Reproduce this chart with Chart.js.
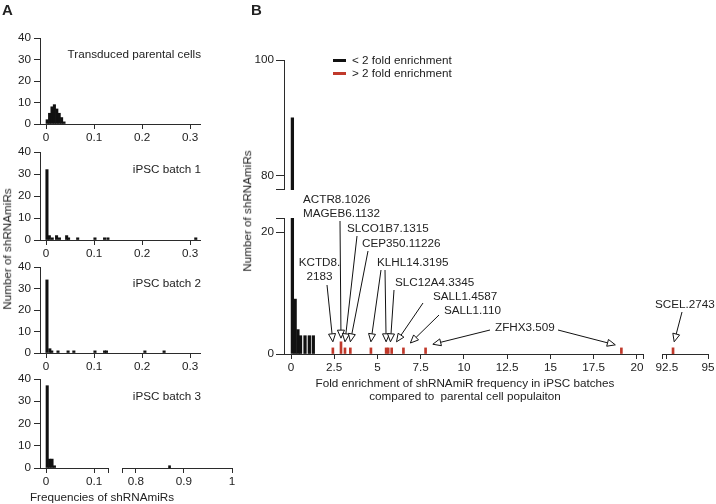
<!DOCTYPE html>
<html>
<head>
<meta charset="utf-8">
<script src="https://cdn.jsdelivr.net/npm/chart.js@4.4.1/dist/chart.umd.min.js"></script>
<style>
  body { margin: 0; width: 716px; height: 504px; position: relative; overflow: hidden; background: #fff;
         font-family: 'Liberation Sans', Arial, Helvetica, sans-serif; color: #222; }
  canvas { position: absolute; }
  .t { position: absolute; font-size: 11.7px; line-height: 1; white-space: pre; }
</style>
</head>
<body>
<script>
// ---- Panel A: frequencies of each shRNAmiR (histograms) ----
const parentalFreq  = [0.0025, 0.0075, 0.0125, 0.0175, 0.0225, 0.0275, 0.0325, 0.0375];
const parentalCount = [2, 5, 8, 9, 7, 5, 3, 1];
const batch1Freq  = [0.002, 0.007, 0.013, 0.022, 0.028, 0.043, 0.047, 0.066, 0.102, 0.122, 0.129, 0.312];
const batch1Count = [32, 2, 1, 2, 1, 2, 1, 1, 1, 1, 1, 1];
const batch2Freq  = [0.002, 0.008, 0.012, 0.025, 0.046, 0.058, 0.102, 0.122, 0.126, 0.206, 0.246];
const batch2Count = [34, 2, 1, 1, 1, 1, 1, 1, 1, 1, 1];
const batch3Freq  = [0.0025, 0.0075, 0.0125, 0.0175];
const batch3Count = [37, 4, 4, 1];
const batch3FreqFar  = [0.87];
const batch3CountFar = [1];
const freqTicks = [0, 0.1, 0.2, 0.3];
const freqTicksLow = [0, 0.1];
const freqTicksFar = [0.8, 0.9, 1];
const countTicksA = [0, 10, 20, 30, 40];

// ---- Panel B: fold enrichment in iPSC batches vs parental cells ----
const foldBelow2  = [0.08, 0.24, 0.4, 0.55, 0.81, 1.06, 1.29];
const countBelow2 = [90, 9, 4, 3, 3, 3, 3];
const foldAbove2  = [2.42, 2.89, 3.12, 3.43, 4.62, 5.5, 5.62, 5.82, 6.5, 7.78, 19.1];
const countAbove2 = [1, 2, 1, 1, 1, 1, 1, 1, 1, 1, 1];
const foldAbove2Far  = [92.88];
const countAbove2Far = [1];
const foldTicks = [0, 2.5, 5, 7.5, 10, 12.5, 15, 17.5, 20];
const foldTicksFar = [92.5, 95];
const countTicksLow = [0, 20];
const countTicksHigh = [80, 100];

// hits: name, fold value(s) the arrow points at, arrow tip height (count units)
const hitNames = ['KCTD8.2183', 'ACTR8.1026', 'SLCO1B7.1315', 'CEP350.11226', 'KLHL14.3195',
                  'SLC12A4.3345', 'SALL1.4587', 'SALL1.110', 'ZFHX3.509'];
const hitFolds = [[2.42], [2.89], [3.12], [3.43], [4.62, 5.5], [5.75], [6.1], [6.9], [8.2, 18.75]];
const hitTips  = [[2], [2.6], [2], [2], [2, 2], [2], [2], [1.8], [1.6, 1.5]];
const farHitName = 'SCEL.2743';
const farHitFold = 92.95;
const farHitTip = 2;

const FONT = "'Liberation Sans', Arial, Helvetica, sans-serif";
Chart.defaults.font.family = FONT;
Chart.defaults.font.size = 11.7;
Chart.defaults.color = '#222';
Chart.defaults.animation = false;
Chart.defaults.responsive = false;
Chart.defaults.plugins.legend.display = false;
Chart.defaults.plugins.tooltip.enabled = false;

const INK = '#2b2b2b';
const RED = '#c0392b';

function text(str, x, y, align, opts) {
  opts = opts || {};
  const d = document.createElement('div');
  d.className = 't';
  d.textContent = str;
  d.style.left = x + 'px';
  d.style.top = y + 'px';
  if (opts.size) d.style.fontSize = opts.size + 'px';
  if (opts.bold) d.style.fontWeight = 'bold';
  const tx = align === 'center' ? '-50%' : align === 'right' ? '-100%' : '0';
  d.style.transform = 'translate(' + tx + ',-50%)' + (opts.rot ? ' rotate(-90deg)' : '');
  document.body.appendChild(d);
}

function makeCanvas(area, m) {
  const c = document.createElement('canvas');
  const w = area.r - area.l + m.l + m.r, h = area.b - area.t + m.t + m.b;
  c.width = w; c.height = h;
  c.style.left = (area.l - m.l) + 'px';
  c.style.top = (area.t - m.t) + 'px';
  c.style.width = w + 'px';
  c.style.height = h + 'px';
  document.body.appendChild(c);
  return c;
}

// linear axis with fixed tick list; caps are unlabelled ticks marking an axis break
function axis(min, max, ticks, caps, size, tickLen, pad) {
  if (!ticks) return { type: 'linear', min, max, display: false, offset: false };
  const all = ticks.concat(caps);
  return {
    type: 'linear', min, max, offset: false,
    afterBuildTicks: s => { s.ticks = all.map(v => ({ value: v })); },
    afterFit: s => { if (s.isHorizontal()) s.height = size; else s.width = size; },
    ticks: { autoSkip: false, maxRotation: 0, padding: pad, color: '#222',
             callback: v => caps.includes(v) ? '' : String(v) },
    grid: { drawOnChartArea: false, drawTicks: true, tickLength: tickLen, color: INK, offset: false },
    border: { display: true, color: INK, width: 1 }
  };
}

function bars(xv, yv, color, thick) {
  return { data: xv.map((x, i) => ({ x, y: yv[i] })), backgroundColor: color,
           barThickness: thick, grouped: false, borderWidth: 0, clip: 0 };
}

function makeChart(area, m, xAxis, yAxis, datasets, plugins) {
  const c = makeCanvas(area, m);
  return new Chart(c, {
    type: 'bar',
    data: { datasets },
    options: {
      layout: { autoPadding: false, padding: {
        top: m.t, right: m.r,
        left: yAxis.display === false ? m.l : 0,
        bottom: xAxis.display === false ? m.b : 0 } },
      scales: { x: xAxis, y: yAxis }
    },
    plugins: plugins || []
  });
}

// ---------- Panel A ----------
const mA = { l: 40, t: 8, r: 12, b: 22 };
const xMinA = -0.0125;
const panelsA = [
  { area: { l: 40, t: 36, r: 200, b: 124 }, f: parentalFreq, c: parentalCount, title: 'Transduced parental cells', ty: 54 },
  { area: { l: 40, t: 150, r: 200, b: 240 }, f: batch1Freq, c: batch1Count, title: 'iPSC batch 1', ty: 169 },
  { area: { l: 40, t: 265, r: 200, b: 353 }, f: batch2Freq, c: batch2Count, title: 'iPSC batch 2', ty: 283 }
];
panelsA.forEach(p => {
  makeChart(p.area, mA,
    axis(xMinA, 0.3208, freqTicks, [], mA.b, 5, 2),
    axis(0, 40, countTicksA, [], mA.l, 6, 3),
    [bars(p.f, p.c, '#111', 2.4)]);
  text(p.title, 201, p.ty, 'right');
});
// batch 3 has a broken x axis
makeChart({ l: 40, t: 377, r: 108, b: 468 }, { l: 40, t: 8, r: 8, b: 22 },
  axis(xMinA, 0.129, freqTicksLow, [0.129], 22, 5, 2),
  axis(0, 40, countTicksA, [], 40, 6, 3),
  [bars(batch3Freq, batch3Count, '#111', 2.4)]);
makeChart({ l: 122, t: 377, r: 232, b: 468 }, { l: 4, t: 8, r: 10, b: 22 },
  axis(0.771, 1, freqTicksFar, [0.771], 22, 5, 2),
  axis(0, 40, null),
  [bars(batch3FreqFar, batch3CountFar, '#111', 2)]);
text('iPSC batch 3', 201, 396, 'right');

text('A', 2, 9, 'left', { bold: true, size: 15 });
text('Number of shRNAmiRs', 7, 249, 'center', { rot: true });
text('Frequencies of shRNAmiRs', 102, 497, 'center');

// ---------- Panel B ----------
const xMinB = -0.405, xMaxB = 20.35;

// labels with page positions and arrow tails (page px)
const hitLayout = [
  { lines: [['KCTD8.', 319.5, 263, 'center'], ['2183', 319.5, 277, 'center']], tails: [[327, 285]] },
  { lines: [['ACTR8.1026', 303, 200, 'left'], ['MAGEB6.1132', 303, 214, 'left']], tails: [[340, 221]] },
  { lines: [['SLCO1B7.1315', 347, 229, 'left']], tails: [[357, 236]] },
  { lines: [['CEP350.11226', 362, 244, 'left']], tails: [[368, 251]] },
  { lines: [['KLHL14.3195', 377, 263, 'left']], tails: [[381, 270], [385, 270]] },
  { lines: [['SLC12A4.3345', 395, 283, 'left']], tails: [[394, 290]] },
  { lines: [['SALL1.4587', 433, 297, 'left']], tails: [[423, 303]] },
  { lines: [['SALL1.110', 444, 311, 'left']], tails: [[439, 315]] },
  { lines: [['ZFHX3.509', 495, 328, 'left']], tails: [[490, 330], [558, 330]] }
];

function arrow(ctx, x0, y0, x1, y1) {
  const a = Math.atan2(y1 - y0, x1 - x0), L = 8, W = 3.5;
  const bx = x1 - L * Math.cos(a), by = y1 - L * Math.sin(a);
  ctx.beginPath(); ctx.moveTo(x0, y0); ctx.lineTo(bx, by); ctx.stroke();
  ctx.beginPath();
  ctx.moveTo(x1, y1);
  ctx.lineTo(bx + W * Math.sin(a), by - W * Math.cos(a));
  ctx.lineTo(bx - W * Math.sin(a), by + W * Math.cos(a));
  ctx.closePath();
  ctx.fillStyle = '#fff'; ctx.fill(); ctx.stroke();
}

function hitsPlugin(offX, offY, items) {
  return {
    id: 'hits',
    afterDatasetsDraw(chart) {
      const { ctx, scales: { x, y } } = chart;
      ctx.save();
      ctx.font = '11.7px ' + FONT;
      ctx.textBaseline = 'middle';
      ctx.strokeStyle = '#111';
      ctx.lineWidth = 1;
      items.forEach(it => {
        ctx.fillStyle = '#222';
        it.lines.forEach(([s, lx, ly, al]) => { ctx.textAlign = al; ctx.fillText(s, lx - offX, ly - offY); });
        it.folds.forEach((f, k) => {
          const tail = it.tails[k];
          arrow(ctx, tail[0] - offX, tail[1] - offY, x.getPixelForValue(f), y.getPixelForValue(it.tips[k]));
        });
      });
      ctx.restore();
    }
  };
}

// upper segment of the broken y axis
makeChart({ l: 284, t: 59, r: 643, b: 195 }, { l: 40, t: 8, r: 10, b: 4 },
  axis(xMinB, xMaxB, null),
  axis(77.5, 100, countTicksHigh, [77.5], 40, 8, 2),
  [bars(foldBelow2, countBelow2, '#111', 2.6)]);

// lower segment, main x range
const areaLow = { l: 284, t: 218, r: 643, b: 354 }, mLow = { l: 40, t: 40, r: 10, b: 22 };
const lowItems = hitLayout.map((h, i) => ({ ...h, name: hitNames[i], folds: hitFolds[i], tips: hitTips[i] }));
makeChart(areaLow, mLow,
  axis(xMinB, xMaxB, foldTicks, [xMaxB], 22, 5, 2),
  axis(0, 22.3, countTicksLow, [22.3], 40, 8, 2),
  [bars(foldBelow2, countBelow2, '#111', 2.6), bars(foldAbove2, countAbove2, RED, 2)],
  [hitsPlugin(areaLow.l - mLow.l, areaLow.t - mLow.t, lowItems)]);

// far x range (92.5 - 95)
const areaFar = { l: 657, t: 218, r: 708, b: 354 }, mFar = { l: 4, t: 8, r: 8, b: 22 };
makeChart(areaFar, mFar,
  axis(92.23, 95, foldTicksFar, [92.23], 22, 5, 2),
  axis(0, 22.3, null),
  [bars(foldAbove2Far, countAbove2Far, RED, 2)],
  [hitsPlugin(areaFar.l - mFar.l, areaFar.t - mFar.t,
    [{ lines: [[farHitName, 655, 305, 'left']], tails: [[682, 312]], folds: [farHitFold], tips: [farHitTip] }])]);

text('B', 251, 9, 'left', { bold: true, size: 15 });
text('Number of shRNAmiRs', 247, 211, 'center', { rot: true });
text('Fold enrichment of shRNAmiR frequency in iPSC batches', 465, 383, 'center');
text('compared to  parental cell populaiton', 465, 396, 'center');

// legend
[['< 2 fold enrichment', '#111', 60], ['> 2 fold enrichment', RED, 73]].forEach(([s, col, y]) => {
  const sw = document.createElement('div');
  sw.style.cssText = 'position:absolute;left:333px;width:13px;height:3px;top:' + (y - 1.5) + 'px;background:' + col;
  document.body.appendChild(sw);
  text(s, 352, y, 'left');
});
</script>
</body>
</html>
